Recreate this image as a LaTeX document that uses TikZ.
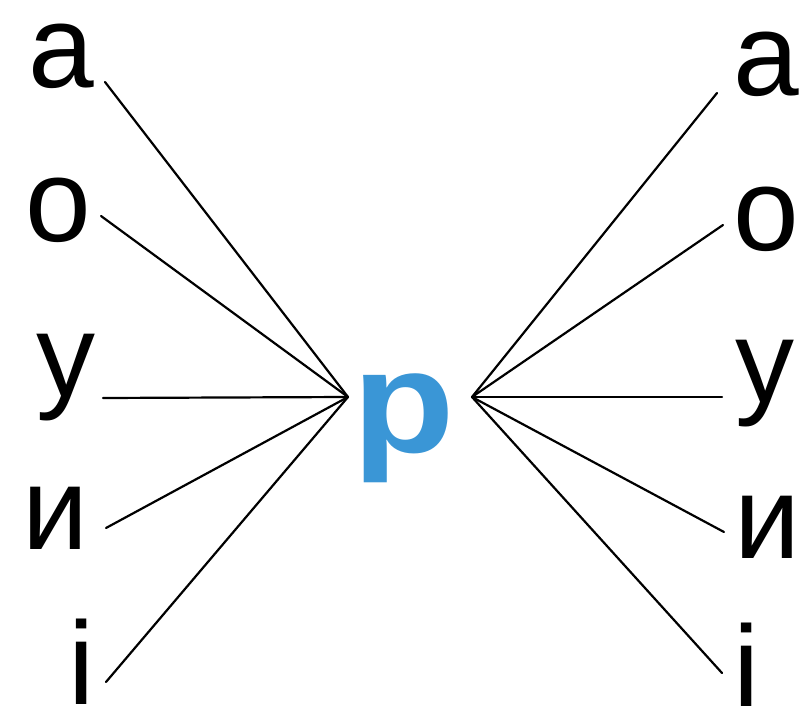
\documentclass[tikz,border=0pt]{standalone}
\usepackage{fontspec}
\setmainfont{Liberation Sans}
\definecolor{letterblue}{RGB}{58,150,214}
\tikzset{
	letter/.style={inner sep=0pt, outer sep=0pt, font=\fontsize{118}{140}\selectfont},
	centre/.style={inner sep=0pt, outer sep=0pt, text=letterblue, font=\fontsize{146}{170}\selectfont\bfseries},
	link/.style={line width=2.2pt, line cap=round}
}
\begin{document}
\begin{tikzpicture}[x=1pt, y=-1pt]
			\useasboundingbox (0,0) rectangle (804,706);
			
			% centre letter and the two meeting points
			\node[centre, anchor=base west] (r) at (352,452) {\scalebox{1.15}[1]{р}};
			\coordinate (pl) at (348,397);
			\coordinate (pr) at (472,397);
			
			% left column
			\node[letter, anchor=base west] (a-l) at (28.5,88) {а};
			\node[letter, anchor=base west] (o-l) at (25,242) {о};
			\node[letter, anchor=base west] (u-l) at (36,396) {у};
			\node[letter, anchor=base west] (y-l) at (23,549) {и};
			\node[letter, anchor=base west] (i-l) at (68,704) {і};
			
			\coordinate (a-l-end) at (105,82);
			\coordinate (o-l-end) at (101,216);
			\coordinate (u-l-end) at (103,398);
			\coordinate (y-l-end) at (106,528);
			\coordinate (i-l-end) at (106,682);
			
			\draw[link] (a-l-end) -- (pl);
			\draw[link] (o-l-end) -- (pl);
			\draw[link] (u-l-end) -- (pl);
			\draw[link] (y-l-end) -- (pl);
			\draw[link] (i-l-end) -- (pl);
			
			% right column
			\node[letter, anchor=base west] (a-r) at (733,96) {а};
			\node[letter, anchor=base west] (o-r) at (733,251) {о};
			\node[letter, anchor=base west] (u-r) at (735,402) {у};
			\node[letter, anchor=base west] (y-r) at (734,558) {и};
			\node[letter, anchor=base west] (i-r) at (733,708) {і};
			
			\coordinate (a-r-end) at (717,93);
			\coordinate (o-r-end) at (723,225);
			\coordinate (u-r-end) at (722,397);
			\coordinate (y-r-end) at (724,532);
			\coordinate (i-r-end) at (722,673);
			
			\draw[link] (pr) -- (a-r-end);
			\draw[link] (pr) -- (o-r-end);
			\draw[link] (pr) -- (u-r-end);
			\draw[link] (pr) -- (y-r-end);
			\draw[link] (pr) -- (i-r-end);
		\end{tikzpicture}
\end{document}
